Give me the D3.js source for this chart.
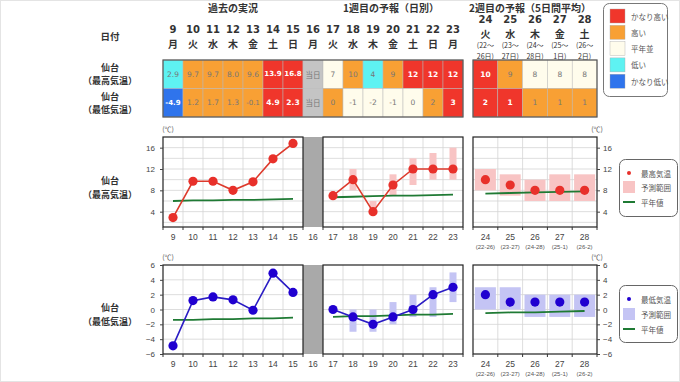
<!DOCTYPE html>
<html>
<head>
<meta charset="utf-8">
<script src="https://cdn.jsdelivr.net/npm/d3@7"></script>
<style>
  body { margin: 0; background: #fff; }
  text { font-family: "Noto Sans CJK JP", "DejaVu Sans", sans-serif; }
  .num { font-family: "DejaVu Sans", sans-serif; }
  .ax { font-family: "Liberation Sans", Arial, sans-serif; }
</style>
</head>
<body>
<svg id="chart" width="680" height="382"></svg>
<script>
// days and labels
const days = ['9','10','11','12','13','14','15','16','17','18','19','20','21','22','23'];
const weekdays = ['月','火','水','木','金','土','日','月','火','水','木','金','土','日','月'];
const wkDays = ['24','25','26','27','28'];
const wkWeekdays = ['火','水','木','金','土'];
const wkFrom = ['(22～','(23～','(24～','(25～','(26～'];
const wkTo = ['26日)','27日)','28日)','1日)','2日)'];
const wkShort = ['(22-26)','(23-27)','(24-28)','(25-1)','(26-2)'];

// table values and classes (vh=かなり高い, h=高い, n=平年並, l=低い, vl=かなり低い, x=当日)
const maxText = ['2.9','9.7','9.7','8.0','9.6','13.9','16.8','当日','7','10','4','9','12','12','12'];
const maxClass = ['l','h','h','h','h','vh','vh','x','n','h','l','h','vh','vh','vh'];
const minText = ['-4.9','1.2','1.7','1.3','-0.1','4.9','2.3','当日','0','-1','-2','-1','0','2','3'];
const minClass = ['vl','h','h','h','h','vh','vh','x','h','n','n','n','n','h','vh'];
const wkMaxText = ['10','9','8','8','8'];
const wkMaxClass = ['vh','h','n','n','n'];
const wkMinText = ['2','1','1','1','1'];
const wkMinClass = ['vh','vh','h','h','h'];

// chart series
const obsDays = ['9','10','11','12','13','14','15'];
const fcDays = ['17','18','19','20','21','22','23'];
const obsMax = [2.9, 9.7, 9.7, 8.0, 9.6, 13.9, 16.8];
const fcMax = [7, 10, 4, 9, 12, 12, 12];
const fcMaxLo = [null, 8, 3.5, 7, 9, 10, 10];
const fcMaxHi = [null, 12, 6, 11, 14, 15, 16];
const normObsMax = [6.0, 6.1, 6.1, 6.2, 6.2, 6.3, 6.4];
const normFcMax = [6.7, 6.8, 6.9, 7.0, 7.0, 7.1, 7.2];
const wkMax = [10, 9, 8, 8, 8];
const wkMaxLo = [8, 7, 6, 6, 6];
const wkMaxHi = [12, 11, 10, 11, 11];
const normWkMax = [7.4, 7.5, 7.6, 7.7, 7.8];

const obsMin = [-4.9, 1.2, 1.7, 1.3, -0.1, 4.9, 2.3];
const fcMin = [0, -1, -2, -1, 0, 2, 3];
const fcMinLo = [null, -3, -3, -2, -1, -1, 1];
const fcMinHi = [null, 0, 0, 1, 2, 3, 5];
const normObsMin = [-1.4, -1.4, -1.3, -1.3, -1.2, -1.2, -1.1];
const normFcMin = [-1.0, -0.9, -0.9, -0.8, -0.7, -0.7, -0.6];
const wkMin = [2, 1, 1, 1, 1];
const wkMinLo = [0, 0, -1, -1, -1];
const wkMinHi = [3, 3, 2, 2, 2];
const normWkMin = [-0.5, -0.4, -0.4, -0.3, -0.2];

const legendNames = ['かなり高い','高い','平年並','低い','かなり低い'];
const legendKeys = ['vh','h','n','l','vl'];

const fills = {vh: '#f0362b', h: '#f8a034', n: '#fffcec', l: '#5ef2f2', vl: '#2f74ec', x: '#c4c4c4'};

const svg = d3.select('#chart');
svg.append('rect').attr('x', 0.5).attr('y', 0.5).attr('width', 679).attr('height', 381)
    .attr('fill', '#fff').attr('stroke', '#e4e4e4');

const x = d3.scaleBand().domain(days).range([163, 463]);
const xw = d3.scaleBand().domain(wkDays).range([473, 597]);
const cx = d => x(d) + x.bandwidth() / 2;
const cxw = d => xw(d) + xw.bandwidth() / 2;

// headers
function label(g, tx, ty, txt, size, weight, fill, anchor) {
    return g.append('text').attr('x', tx).attr('y', ty).text(txt)
        .attr('font-size', size).attr('font-weight', weight || 'normal')
        .attr('fill', fill || '#333').attr('text-anchor', anchor || 'middle')
        .attr('dominant-baseline', 'central');
}

const head = svg.append('g');
label(head, 233, 7, '過去の実況', 10, 'bold');
label(head, 391, 7, '1週目の予報（日別）', 10, 'bold');
label(head, 530, 7, '2週目の予報（5日間平均）', 10, 'bold');
label(head, 110, 36, '日付', 9.5, 'bold');
label(head, 110, 67, '仙台', 9, 'bold');
label(head, 110, 80, '（最高気温）', 9, 'bold');
label(head, 110, 96, '仙台', 9, 'bold');
label(head, 110, 109, '（最低気温）', 9, 'bold');

days.forEach((d, i) => {
    label(head, cx(d), 29, d, 10, 'bold').attr('class', 'num');
    label(head, cx(d), 43, weekdays[i], 10, 'bold');
});
wkDays.forEach((d, i) => {
    label(head, cxw(d), 19, d, 10, 'bold').attr('class', 'num');
    label(head, cxw(d), 33, wkWeekdays[i], 10, 'bold');
    label(head, cxw(d), 45, wkFrom[i], 7, 'normal');
    label(head, cxw(d), 55.5, wkTo[i], 7, 'normal');
});

// table cells
function drawRow(scale, keys, texts, classes, y0, h) {
    const g = svg.append('g');
    const cell = g.selectAll('g').data(keys).enter().append('g');
    cell.append('rect')
        .attr('x', d => scale(d)).attr('y', y0)
        .attr('width', scale.bandwidth()).attr('height', h)
        .attr('fill', (d, i) => fills[classes[i]])
        .attr('stroke', '#b8b8b8').attr('stroke-width', 0.5);
    cell.append('text')
        .attr('x', d => scale(d) + scale.bandwidth() / 2).attr('y', y0 + h / 2)
        .attr('text-anchor', 'middle').attr('dominant-baseline', 'central')
        .attr('font-size', (d, i) => texts[i].length > 3 ? 7 : 7.5)
        .attr('class', (d, i) => classes[i] === 'x' ? '' : 'num')
        .attr('font-weight', (d, i) => (classes[i] === 'vh' || classes[i] === 'vl') ? 'bold' : 'normal')
        .attr('fill', (d, i) => (classes[i] === 'vh' || classes[i] === 'vl') ? '#fff' : '#777')
        .text((d, i) => texts[i]);
}
drawRow(x, days, maxText, maxClass, 60, 28.5);
drawRow(x, days, minText, minClass, 88.5, 28.5);
drawRow(xw, wkDays, wkMaxText, wkMaxClass, 60, 28.5);
drawRow(xw, wkDays, wkMinText, wkMinClass, 88.5, 28.5);
svg.append('rect').attr('x', 163).attr('y', 60).attr('width', 300).attr('height', 57)
    .attr('fill', 'none').attr('stroke', '#555').attr('stroke-width', 1.2);
svg.append('rect').attr('x', 473).attr('y', 60).attr('width', 124).attr('height', 57)
    .attr('fill', 'none').attr('stroke', '#555').attr('stroke-width', 1.2);

// class legend
const lg = svg.append('g');
lg.append('rect').attr('x', 603.5).attr('y', 3.5).attr('width', 64).attr('height', 93)
    .attr('rx', 6).attr('fill', '#fff').attr('stroke', '#777');
legendKeys.forEach((k, i) => {
    const yy = 16 + i * 16.3;
    lg.append('rect').attr('x', 610).attr('y', yy - 7).attr('width', 15).attr('height', 14)
        .attr('fill', fills[k]).attr('stroke', '#aaa').attr('stroke-width', 0.4);
    label(lg, 631, yy, legendNames[i], 7.5, 'normal', '#555', 'start');
});

// one temperature chart (max or min)
function drawChart(c) {
    const g = svg.append('g');
    const y = c.y;
    const top = y.range()[1], bottom = y.range()[0];

    label(g, 110, c.labelY, '仙台', 9, 'bold');
    label(g, 110, c.labelY + 14, c.title, 9, 'bold');
    label(g, 168, top - 8, '(℃)', 7, 'normal', '#555');
    label(g, 597, top - 8, '(℃)', 7, 'normal', '#555');

    const panels = [[163, 303], [323, 463], [473, 597]];
    // gridlines
    panels.forEach(p => {
        g.append('g').selectAll('line').data(c.grid).enter().append('line')
            .attr('x1', p[0]).attr('x2', p[1])
            .attr('y1', d => y(d)).attr('y2', d => y(d))
            .attr('stroke', '#d4d4d4').attr('stroke-width', 0.8);
    });
    const bounds1 = d3.range(1, 15).map(i => x(days[i])).filter(v => v !== x('16') && v !== x('17'));
    const bounds2 = d3.range(1, 5).map(i => xw(wkDays[i]));
    g.append('g').selectAll('line').data(bounds1.concat(bounds2)).enter().append('line')
        .attr('x1', d => d).attr('x2', d => d).attr('y1', top).attr('y2', bottom)
        .attr('stroke', '#d4d4d4').attr('stroke-width', 0.8);

    // gray today column
    g.append('rect').attr('x', x('16')).attr('y', top).attr('width', x.bandwidth())
        .attr('height', bottom - top).attr('fill', '#a9a9a9');

    // ranges
    g.append('g').selectAll('rect').data(fcDays.filter((d, i) => c.fcLo[i] !== null)).enter()
        .append('rect')
        .attr('x', d => cx(d) - 3.5).attr('width', 7)
        .attr('y', d => y(c.fcHi[fcDays.indexOf(d)]))
        .attr('height', d => y(c.fcLo[fcDays.indexOf(d)]) - y(c.fcHi[fcDays.indexOf(d)]))
        .attr('fill', c.range);
    g.append('g').selectAll('rect').data(wkDays).enter().append('rect')
        .attr('x', d => cxw(d) - 10.5).attr('width', 21)
        .attr('y', (d, i) => y(c.wkHi[i]))
        .attr('height', (d, i) => y(c.wkLo[i]) - y(c.wkHi[i]))
        .attr('fill', c.range);

    // normal lines
    const line = d3.line().x(d => d[0]).y(d => y(d[1]));
    [
        obsDays.map((d, i) => [cx(d), c.normObs[i]]),
        fcDays.map((d, i) => [cx(d), c.normFc[i]]),
        wkDays.map((d, i) => [cxw(d), c.normWk[i]])
    ].forEach(pts => {
        g.append('path').attr('d', line(pts)).attr('fill', 'none')
            .attr('stroke', '#1f7a34').attr('stroke-width', 1.8);
    });

    // value lines and dots
    [
        obsDays.map((d, i) => [cx(d), c.obs[i]]),
        fcDays.map((d, i) => [cx(d), c.fc[i]])
    ].forEach(pts => {
        g.append('path').attr('d', line(pts)).attr('fill', 'none')
            .attr('stroke', c.color).attr('stroke-width', 1.6);
        g.append('g').selectAll('circle').data(pts).enter().append('circle')
            .attr('cx', d => d[0]).attr('cy', d => y(d[1])).attr('r', 4.6)
            .attr('fill', c.dot);
    });
    g.append('g').selectAll('circle').data(wkDays).enter().append('circle')
        .attr('cx', d => cxw(d)).attr('cy', (d, i) => y(c.wk[i])).attr('r', 4.6)
        .attr('fill', c.dot);

    // frames
    panels.forEach(p => {
        g.append('rect').attr('x', p[0]).attr('y', top).attr('width', p[1] - p[0])
            .attr('height', bottom - top).attr('fill', 'none')
            .attr('stroke', '#222').attr('stroke-width', 1.2);
    });

    // y axes
    const axL = g.append('g').attr('transform', 'translate(163,0)')
        .call(d3.axisLeft(y).tickValues(c.ticks).tickSize(3).tickFormat(c.fmt));
    const axR = g.append('g').attr('transform', 'translate(597,0)')
        .call(d3.axisRight(y).tickValues(c.ticks).tickSize(3).tickFormat(c.fmt));
    [axL, axR].forEach(a => {
        a.select('.domain').remove();
        a.selectAll('text').attr('class', 'ax').attr('font-size', 8).attr('fill', '#444');
        a.selectAll('line').attr('stroke', '#444');
    });
    axL.selectAll('text').attr('x', -8);
    axR.selectAll('text').attr('x', 6);

    // x ticks and labels
    const tickX = d3.range(0, 16).map(i => 163 + i * x.bandwidth());
    g.append('g').selectAll('line').data(tickX).enter().append('line')
        .attr('x1', d => d).attr('x2', d => d).attr('y1', bottom).attr('y2', bottom + 3)
        .attr('stroke', '#333');
    const tickW = d3.range(0, 6).map(i => 473 + i * xw.bandwidth());
    g.append('g').selectAll('line').data(tickW).enter().append('line')
        .attr('x1', d => d).attr('x2', d => d).attr('y1', bottom).attr('y2', bottom + 3)
        .attr('stroke', '#333');
    days.forEach(d => label(g, cx(d), bottom + 10, d, 8.5, 'normal', '#444').attr('class', 'ax'));
    wkDays.forEach((d, i) => {
        label(g, cxw(d), bottom + 10, d, 8.5, 'normal', '#444').attr('class', 'ax');
        label(g, cxw(d), bottom + 19.5, wkShort[i], 6, 'normal', '#555').attr('class', 'ax');
    });

    // legend
    const l = c.legend;
    g.append('rect').attr('x', 619.5).attr('y', l.top).attr('width', 58).attr('height', l.h)
        .attr('rx', 6).attr('fill', '#fff').attr('stroke', '#666');
    g.append('circle').attr('cx', 629).attr('cy', l.rows[0]).attr('r', 2).attr('fill', c.dot);
    g.append('rect').attr('x', 623).attr('y', l.rows[1] - 6).attr('width', 12).attr('height', 12)
        .attr('fill', c.range);
    g.append('line').attr('x1', 623).attr('x2', 635).attr('y1', l.rows[2]).attr('y2', l.rows[2])
        .attr('stroke', '#1f7a34').attr('stroke-width', 2);
    [c.name, '予測範囲', '平年値'].forEach((t, i) => {
        label(g, 641, l.rows[i], t, 7.5, 'normal', '#555', 'start');
    });
}

drawChart({
    y: d3.scaleLinear().domain([1.125, 18]).range([227, 137]),
    ticks: [4, 8, 12, 16], grid: [2, 4, 6, 8, 10, 12, 14, 16], fmt: d3.format('d'),
    title: '（最高気温）', name: '最高気温', labelY: 180,
    obs: obsMax, fc: fcMax, fcLo: fcMaxLo, fcHi: fcMaxHi,
    wk: wkMax, wkLo: wkMaxLo, wkHi: wkMaxHi,
    normObs: normObsMax, normFc: normFcMax, normWk: normWkMax,
    color: '#dd3a2c', dot: '#e8302a', range: '#f8c4c4',
    legend: {top: 159.5, h: 57, rows: [173, 187, 202]}
});

drawChart({
    y: d3.scaleLinear().domain([-6, 6]).range([354, 265]),
    ticks: [-6, -4, -2, 0, 2, 4, 6], grid: [-4, -2, 0, 2, 4], fmt: d => d < 0 ? '−' + Math.abs(d) : d,
    title: '（最低気温）', name: '最低気温', labelY: 307,
    obs: obsMin, fc: fcMin, fcLo: fcMinLo, fcHi: fcMinHi,
    wk: wkMin, wkLo: wkMinLo, wkHi: wkMinHi,
    normObs: normObsMin, normFc: normFcMin, normWk: normWkMin,
    color: '#2a1cc4', dot: '#2000d0', range: '#c4c4f4',
    legend: {top: 285.5, h: 57, rows: [299, 314, 329]}
});
</script>
</body>
</html>
